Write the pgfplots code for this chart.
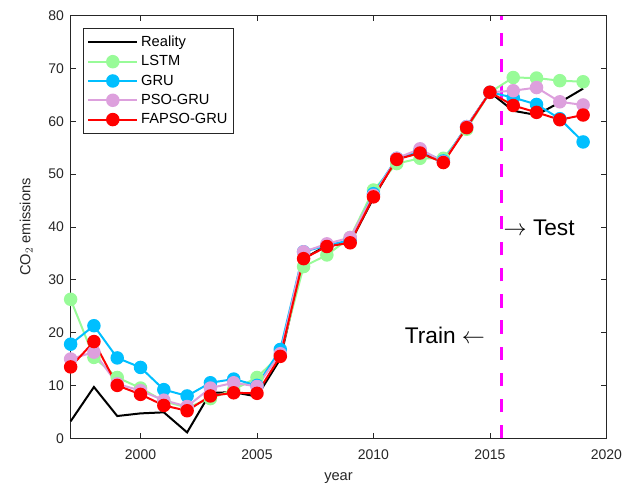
\documentclass[border=0pt]{standalone}
\usepackage{pgfplots}
\pgfplotsset{compat=1.18}
\usepackage{fontspec}
\setmainfont{Liberation Sans}
\definecolor{cgreen}{RGB}{152,251,152}
\definecolor{cblue}{RGB}{0,191,255}
\definecolor{cplum}{RGB}{221,160,221}
\definecolor{cred}{RGB}{255,0,0}
\definecolor{cmag}{RGB}{255,0,255}
\definecolor{axgray}{RGB}{38,38,38}
\pgfplotstableread{
year real lstm gru pso fapso
1997 3.2 26.3 17.8 15.0 13.5
1998 9.7 15.3 21.3 16.3 18.3
1999 4.2 11.5 15.2 10.3 10.0
2000 4.7 9.5 13.4 9.0 8.3
2001 4.9 7.0 9.2 7.2 6.2
2002 1.1 5.8 8.0 6.0 5.2
2003 8.6 7.5 10.5 9.5 8.0
2004 8.7 9.2 11.2 10.5 8.6
2005 7.9 11.5 10.0 9.8 8.5
2006 15.0 15.8 16.8 16.0 15.5
2007 34.0 32.5 35.3 35.3 34.0
2008 36.5 34.7 36.5 36.8 36.3
2009 37.0 38.0 37.5 38.0 37.0
2010 45.5 47.0 46.3 46.0 45.7
2011 53.0 52.0 53.0 53.0 52.8
2012 54.0 53.0 54.5 54.8 54.0
2013 52.3 53.0 52.5 52.3 52.2
2014 59.0 58.5 59.0 59.0 58.8
2015 65.5 65.5 65.5 65.5 65.5
2016 62.0 68.3 64.5 65.8 63.0
2017 61.2 68.2 63.2 66.4 61.7
2018 63.6 67.7 60.5 63.7 60.3
2019 66.2 67.5 56.1 63.1 61.2
}\datatable
\begin{document}
\begin{tikzpicture}
\begin{axis}[
  name=ax,
  scale only axis,
  width=402pt, height=317pt,
  xmin=1997, xmax=2020, ymin=0, ymax=80,
  xtick={2000,2005,...,2020},
  ytick={0,10,...,80},
  /pgf/number format/assume math mode=true,
  /pgf/number format/1000 sep={},
  tick align=inside,
  major tick length=4pt,
  every tick/.style={axgray, line width=0.5pt},
  axis line style={axgray, line width=0.6pt},
  tick label style={font=\fontsize{10.5}{12}\selectfont, text=axgray},
  y tick label style={xshift=-1.5pt},
  x tick label style={yshift=-5pt},
  label style={font=\fontsize{11}{13}\selectfont, text=axgray},
  xlabel={year},
  xlabel style={at={(axis description cs:0.5,-0.095)}, anchor=center},
  ylabel={CO$_2$ emissions},
  ylabel style={at={(axis description cs:-0.083,0.5)}, anchor=center},
  legend style={at={(0.024,0.972)}, anchor=north west, draw=axgray, line width=0.5pt, fill=white,
    font=\fontsize{11}{12.5}\selectfont, row sep=1.3pt, inner xsep=2.5pt, inner ysep=4pt},
  legend cell align=left,
  legend image code/.code={
    \draw[mark repeat=2, mark phase=2, #1] plot coordinates {(0cm,0cm) (0.65cm,0cm) (1.3cm,0cm)};
  },
  clip=false,
]
\addplot[cmag, line width=2.2pt, dash pattern=on 10pt off 9.6pt, forget plot] coordinates {(2015.5,0) (2015.5,80)};
\addplot[black, line width=1.5pt] table[x=year,y=real] {\datatable};
\addlegendentry{Reality}
\addplot[cgreen, line width=1.5pt, mark=*, mark size=4.3pt, mark options={fill=cgreen, draw=cgreen}] table[x=year,y=lstm] {\datatable};
\addlegendentry{LSTM}
\addplot[cblue, line width=1.5pt, mark=*, mark size=4.3pt, mark options={fill=cblue, draw=cblue}] table[x=year,y=gru] {\datatable};
\addlegendentry{GRU}
\addplot[cplum, line width=1.5pt, mark=*, mark size=4.3pt, mark options={fill=cplum, draw=cplum}] table[x=year,y=pso] {\datatable};
\addlegendentry{PSO-GRU}
\addplot[cred, line width=1.5pt, mark=*, mark size=4.3pt, mark options={fill=cred, draw=cred}] table[x=year,y=fapso] {\datatable};
\addlegendentry{FAPSO-GRU}
\node[anchor=west, font=\fontsize{17}{19}\selectfont, inner sep=0pt] at (axis cs:2015.58,39.8) {$\rightarrow$ Test};
\node[anchor=east, font=\fontsize{17}{19}\selectfont, inner sep=0pt] at (axis cs:2014.8,19.5) {Train $\leftarrow$};
\end{axis}
\pgfresetboundingbox
\path ([shift={(-53pt,-41pt)}]ax.south west) rectangle ([shift={(11.7pt,11.8pt)}]ax.north east);
\end{tikzpicture}
\end{document}
